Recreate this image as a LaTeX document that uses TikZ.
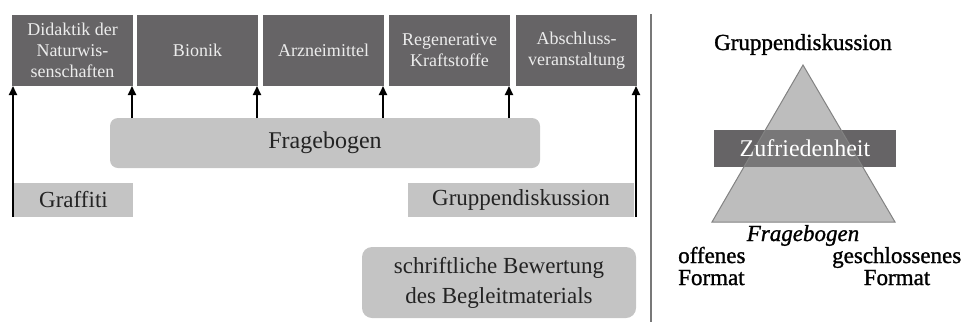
\documentclass[tikz,border=0pt]{standalone}
\usepackage{fontspec}
\setmainfont{Liberation Serif}
\newfontfamily\heavyserif[FakeBold=1.2]{Liberation Serif}
\usetikzlibrary{arrows.meta}
\definecolor{darkbox}{RGB}{102,100,102}
\definecolor{litebox}{RGB}{196,196,196}
\definecolor{boxtxt}{RGB}{35,35,35}
\definecolor{toptxt}{RGB}{236,236,236}
\definecolor{trifill}{RGB}{135,135,135}
\definecolor{triedge}{RGB}{130,130,130}
\definecolor{divline}{RGB}{120,120,120}
\begin{document}
\begin{tikzpicture}[x=1pt,y=-1pt,
  topbox/.style={fill=darkbox, text=toptxt, minimum width=121pt, minimum height=71pt,
    inner sep=0pt, outer sep=0pt, anchor=north west, align=center,
    font=\fontsize{18}{21}\selectfont},
  litebx/.style={fill=litebox, text=boxtxt, inner sep=0pt, outer sep=0pt,
    anchor=north west, align=center, font=\fontsize{23}{30}\selectfont},
  arr/.style={line width=2pt, -{Triangle[width=8pt,length=9pt]}},
  rtext/.style={inner sep=0pt, text=black, font=\heavyserif\fontsize{23}{28}\selectfont},
]
\useasboundingbox (0,0) rectangle (966,322);

% top row
\node[topbox] (b1) at (12,15) {Didaktik der\\Naturwis-\\senschaften};
\node[topbox] (b2) at (137,15) {Bionik};
\node[topbox] (b3) at (263,15) {Arzneimittel};
\node[topbox] (b4) at (389,15) {Regenerative\\Kraftstoffe};
\node[topbox] (b5) at (516,15) {Abschluss-\\veranstaltung};

% light boxes
\node[litebx, rounded corners=8pt, minimum width=430pt, minimum height=50pt,
  font=\fontsize{24}{30}\selectfont] (frage) at (110,118) {Fragebogen};
\node[litebx, minimum width=119pt, minimum height=34pt] (graf) at (14,183) {Graffiti};
\node[litebx, minimum width=226pt, minimum height=34pt] (grp) at (408,183) {Gruppendiskussion};
\node[litebx, rounded corners=10pt, minimum width=274pt, minimum height=71pt] (schr) at (362,247)
  {schriftliche Bewertung\\des Begleitmaterials};

% arrow targets
\coordinate (t0) at ([xshift=1pt]b1.south west);
\coordinate (t1) at ([xshift=-1pt]b1.south east);
\coordinate (t2) at ([xshift=-1pt]b2.south east);
\coordinate (t3) at ([xshift=-1pt]b3.south east);
\coordinate (t4) at ([xshift=-1pt]b4.south east);
\coordinate (t5) at ([xshift=-1pt]b5.south east);

\draw[arr] (t0 |- graf.south) -- (t0);
\draw[arr] (t1 |- frage.north) -- (t1);
\draw[arr] (t2 |- frage.north) -- (t2);
\draw[arr] (t3 |- frage.north) -- (t3);
\draw[arr] (t4 |- frage.north) -- (t4);
\draw[arr] (t5 |- grp.south) -- (t5);

% divider
\coordinate (d1) at (651,14);
\coordinate (d2) at (651,322);
\draw[divline, line width=1.5pt] (d1) -- (d2);

% right: pyramid
\coordinate (apex) at (803,65);
\coordinate (bl) at (712,222);
\coordinate (br) at (895,222);
\node[fill=darkbox, minimum width=182pt, minimum height=37pt, inner sep=0pt, outer sep=0pt,
  anchor=north west] (zuf) at (714,130) {};
\fill[trifill, fill opacity=0.55] (apex) -- (bl) -- (br) -- cycle;
\draw[triedge, line width=1pt] (apex) -- (bl) -- (br) -- cycle;
\node[inner sep=0pt, text=white, font=\fontsize{24}{28}\selectfont] (zuftxt) at (zuf.center) {Zufriedenheit};

\node[rtext, anchor=base] (gdr) at (803,50) {Gruppendiskussion};
\node[rtext, anchor=base, font=\heavyserif\fontsize{23}{28}\selectfont\itshape] (fbr) at (803,241) {Fragebogen};
\node[rtext, anchor=base west] (of1) at (678,263) {offenes};
\node[rtext, anchor=base west] (of2) at (678,285) {Format};
\node[rtext, anchor=base west] (gs1) at (832,263) {geschlossenes};
\node[rtext, anchor=base] (gs2) at (897,285) {Format};
\end{tikzpicture}
\end{document}
